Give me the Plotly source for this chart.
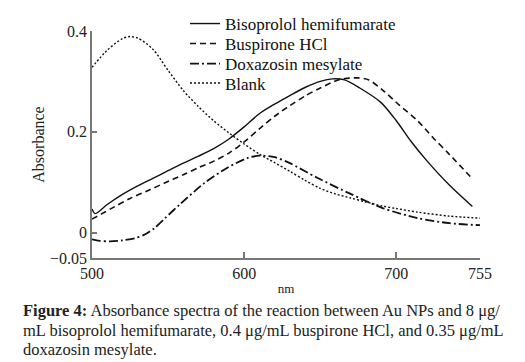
import plotly.graph_objects as go

# Data (wavelength nm, absorbance)
biso_x = [500, 502, 510, 520, 530, 540, 550, 560, 570, 580, 590, 600, 610, 620, 630, 640, 650, 658, 666, 676, 690, 700, 710, 720, 735, 750]
biso_y = [0.047, 0.038, 0.056, 0.076, 0.093, 0.108, 0.123, 0.138, 0.152, 0.167, 0.186, 0.210, 0.236, 0.255, 0.272, 0.288, 0.300, 0.305, 0.303, 0.287, 0.258, 0.222, 0.180, 0.143, 0.094, 0.052]

busp_x = [500, 506, 515, 525, 537, 548, 560, 570, 580, 590, 600, 610, 620, 630, 640, 650, 663, 675, 682, 691, 702, 714, 724, 735, 750]
busp_y = [0.027, 0.037, 0.052, 0.068, 0.084, 0.099, 0.115, 0.129, 0.142, 0.158, 0.180, 0.206, 0.231, 0.252, 0.271, 0.287, 0.304, 0.307, 0.303, 0.283, 0.253, 0.222, 0.189, 0.155, 0.107]

doxa_x = [500, 505, 512, 520, 528, 535, 541, 548, 558, 574, 589, 602, 610, 620, 630, 648, 670, 691, 714, 735, 755]
doxa_y = [-0.013, -0.016, -0.017, -0.015, -0.011, -0.003, 0.009, 0.029, 0.057, 0.099, 0.129, 0.148, 0.153, 0.150, 0.138, 0.109, 0.077, 0.049, 0.029, 0.019, 0.015]

blank_x = [500, 510, 520, 525, 530, 540, 550, 560, 570, 580, 590, 600, 610, 620, 630, 640, 650, 660, 670, 680, 691, 700, 714, 735, 755]
blank_y = [0.328, 0.362, 0.385, 0.389, 0.386, 0.364, 0.322, 0.282, 0.250, 0.222, 0.198, 0.176, 0.156, 0.139, 0.122, 0.104, 0.088, 0.077, 0.069, 0.061, 0.053, 0.048, 0.041, 0.033, 0.029]

x_tickvals = [500, 600, 700, 755]
x_ticktext = ["500", "600", "700", "755"]
y_tickvals = [-0.05, 0, 0.2, 0.4]
y_ticktext = ["\u22120.05", "0", "0.2", "0.4"]

names = ["Bisoprolol hemifumarate", "Buspirone HCl", "Doxazosin mesylate", "Blank"]

SERIF = "Liberation Serif"
W, H = 525, 362
L, T, PW, PH = 84, 23, 388, 227

fig = go.Figure()
styles = [
    dict(color="#111111", width=1.4),
    dict(color="#111111", width=1.6, dash="6px,4px"),
    dict(color="#111111", width=1.8, dash="9px,3px,2px,3px"),
    dict(color="#111111", width=1.4, dash="2px,2px"),
]
xs = [biso_x, busp_x, doxa_x, blank_x]
ys = [biso_y, busp_y, doxa_y, blank_y]
legend_ids = ["legend", "legend2", "legend3", "legend4"]
for i in range(4):
    st = dict(styles[i])
    st.update(shape="spline", smoothing=0.8)
    fig.add_trace(go.Scatter(x=xs[i], y=ys[i], mode="lines", name=names[i],
                             line=st, legend=legend_ids[i]))

leg_rows_px = [16, 36, 56, 75.5]
leg_common = dict(xref="paper", yref="paper", x=(177 - L) / PW, xanchor="left",
                  yanchor="middle", bgcolor="rgba(0,0,0,0)",
                  font=dict(family=SERIF, size=17, color="#111111"), itemwidth=30)
legends = {}
for lid, py in zip(legend_ids, leg_rows_px):
    d = dict(leg_common)
    d["y"] = (T + PH - py) / PH
    legends[lid] = d

fig.update_layout(
    width=W, height=H,
    margin=dict(l=L, r=W - L - PW, t=T, b=H - T - PH, autoexpand=False),
    paper_bgcolor="white", plot_bgcolor="white",
    font=dict(family=SERIF, color="#222222", size=15),
    showlegend=True,
    xaxis=dict(range=[500, 755], tickvals=x_tickvals, ticktext=x_ticktext,
               showgrid=False, zeroline=False, showline=True, linecolor="#777777", linewidth=1.5,
               ticks="inside", ticklen=6, tickcolor="#777777", tickwidth=1.5,
               tickfont=dict(family=SERIF, size=16, color="#222222"),
               title=dict(text="nm", font=dict(family=SERIF, size=13, color="#222222"), standoff=3)),
    yaxis=dict(range=[-0.05, 0.4], tickvals=y_tickvals, ticktext=y_ticktext,
               showgrid=False, zeroline=False, showline=True, linecolor="#777777", linewidth=1.5,
               ticks="inside", ticklen=5, tickcolor="#777777", tickwidth=1.5,
               tickfont=dict(family=SERIF, size=16, color="#222222"),
               title=dict(text="Absorbance", font=dict(family=SERIF, size=16, color="#222222"), standoff=1)),
    **legends,
)

cap_lines = [
    "<b>Figure 4:</b> Absorbance spectra of the reaction between Au NPs and 8 \u03bcg/",
    "mL bisoprolol hemifumarate, 0.4 \u03bcg/mL buspirone HCl, and 0.35 \u03bcg/mL",
    "doxazosin mesylate.",
]
cap_py = [302.5, 322, 341.5]
for t, py in zip(cap_lines, cap_py):
    fig.add_annotation(text=t, xref="paper", yref="paper",
                       x=(13 - L) / PW, y=(T + PH - py) / PH,
                       xanchor="left", yanchor="middle", showarrow=False,
                       font=dict(family=SERIF, size=16.5, color="#222222"))

fig.write_html("out.html")
